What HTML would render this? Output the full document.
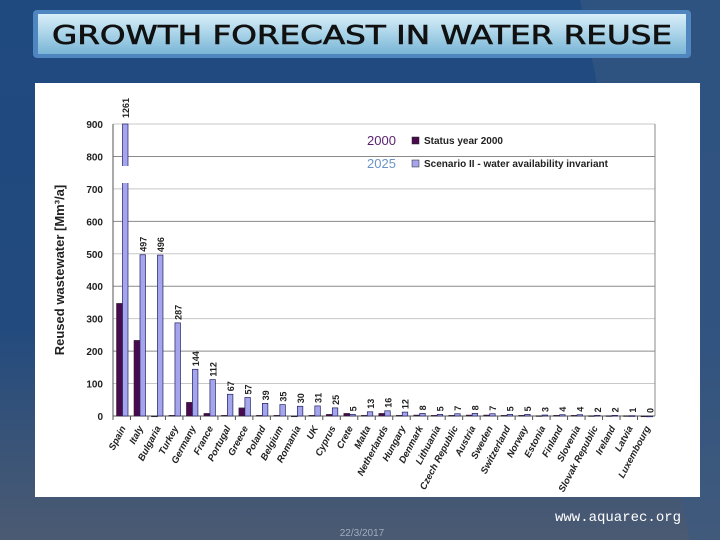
<!DOCTYPE html>
<html><head><meta charset="utf-8"><style>
body{margin:0;width:720px;height:540px;overflow:hidden;font-family:"Liberation Sans",sans-serif}
#bg{position:absolute;left:0;top:0;width:720px;height:540px;background:linear-gradient(180deg,#1f4a80 0%,#224a7e 60%,#3c5577 85%,#4b5a72 100%)}
</style></head><body>
<div id="bg"></div>
<svg id="c" width="720" height="540" style="position:absolute;left:0;top:0">
<defs>
<linearGradient id="tg" x1="0" y1="0" x2="0" y2="1"><stop offset="0" stop-color="#d8eef8"/><stop offset="0.5" stop-color="#a9d3e8"/><stop offset="1" stop-color="#79b5d6"/></linearGradient>
</defs>
<polygon points="580,0 720,0 720,540 690,540" fill="#3a5a82" opacity="0.6"/>
<rect x="33" y="10" width="658" height="48" rx="4" fill="#4f86c0"/>
<rect x="38" y="14" width="648" height="40" fill="url(#tg)"/>
<text x="362" y="44" text-anchor="middle" font-size="26" textLength="620" lengthAdjust="spacingAndGlyphs" fill="#111" stroke="#111" stroke-width="0.6" font-family="DejaVu Sans Condensed, DejaVu Sans, sans-serif">GROWTH FORECAST IN WATER REUSE</text>
<rect x="35" y="83" width="665" height="414" fill="#fff"/>
<g id="plot"></g>
<text x="555" y="521" font-size="14" fill="#fff" font-family="Liberation Mono, monospace">www.aquarec.org</text>
<text x="362" y="536" font-size="10" fill="#a0acc0" text-anchor="middle">22/3/2017</text>
</svg>
<script>
const countries=["Spain","Italy","Bulgaria","Turkey","Germany","France","Portugal","Greece","Poland","Belgium","Romania","UK","Cyprus","Crete","Malta","Netherlands","Hungary","Denmark","Lithuania","Czech Republic","Austria","Sweden","Switzerland","Norway","Estonia","Finland","Slovenia","Slovak Republic","Ireland","Latvia","Luxembourg"];
const values2000=[347,233,0,2,42,8,2,25,2,2,0,2,5,8,2,8,2,3,2,2,3,3,2,2,1,2,2,1,1,1,0];
const values2025=[1261,497,496,287,144,112,67,57,39,35,30,31,25,5,13,16,12,8,5,7,8,7,5,5,3,4,4,2,2,1,0];
const yTicks=[0,100,200,300,400,500,600,700,800,900];
const NS="http://www.w3.org/2000/svg";
const g=document.getElementById('plot');
const x0=113,x1=655,yBase=416,yTop=124,yMax=900;
const bw=(x1-x0)/countries.length;
const Y=v=>yBase-(Math.min(v,yMax))/yMax*(yBase-yTop);
const X=i=>x0+i*bw;
function el(t,a){const e=document.createElementNS(NS,t);for(const k in a)e.setAttribute(k,a[k]);g.appendChild(e);return e;}
yTicks.forEach(t=>{
 const l=el('line',{x1:x0,x2:x1,y1:Y(t),y2:Y(t),stroke:t%200?'#c8c8c8':'#8a8a8a','stroke-width':1});
 
 
 const tx=el('text',{x:x0-10,y:Y(t)+4,'text-anchor':'end','font-size':10,'font-weight':'bold',fill:'#222'});
 tx.textContent=t;
 
 
});
el('line',{x1:x0,x2:x0,y1:yTop,y2:yBase,stroke:'#555'});
el('line',{x1:x0,x2:x1,y1:yBase,y2:yBase,stroke:'#555'});
el('line',{x1:x1,x2:x1,y1:yTop,y2:yBase,stroke:'#888'});
countries.forEach((c,i)=>{
 const xc=X(i);
 el('line',{x1:xc,x2:xc,y1:yBase,y2:yBase+4,stroke:'#555'});
 const v0=values2000[i],v1=values2025[i];
 const b0=el('rect',{x:xc+3.5,y:Y(v0),width:6,height:Math.max(yBase-Y(v0),0.8),fill:'#4a0b4e',stroke:'#222','stroke-width':0.5});
 
 
 const yt=Y(v1);
 const b1=el('rect',{x:xc+9.5,y:yt,width:5.5,height:Math.max(yBase-yt,0.8),fill:'#a5a5ee',stroke:'#202060','stroke-width':0.7});
 
 
 if(v1>yMax){el('rect',{x:xc+8,y:166,width:9,height:17,fill:'#fff'});}
 const lb=el('text',{transform:`translate(${xc+16},${yt-(v1>yMax?6:3)}) rotate(-90)`,'font-size':9,'font-weight':'bold',fill:'#222'});
 lb.textContent=v1;
 
 
 const xl=el('text',{transform:`translate(${xc+13},${yBase+12}) rotate(-62)`,'text-anchor':'end','font-size':9.5,'font-style':'italic','font-weight':'bold',fill:'#222'});
 xl.textContent=c;
 
 
});
const yt=el('text',{transform:'translate(64,270) rotate(-90)','text-anchor':'middle','font-size':13,'font-weight':'bold',fill:'#222'});
yt.textContent='Reused wastewater [Mm³/a]';


[[ '2000','#5a1f6e','#4a0b4e','Status year 2000',141],['2025','#6a94c8','#a5a5ee','Scenario II - water availability invariant',164]].forEach(r=>{
 const a=el('text',{x:367,y:r[4]+4,'font-size':13,fill:r[1]});a.textContent=r[0];
 
 
 const s=el('rect',{x:412,y:r[4]-4,width:7,height:7,fill:r[2],stroke:'#222','stroke-width':0.5});
 
 
 const t=el('text',{x:424,y:r[4]+3,'font-size':10,'font-weight':'bold',fill:'#222'});t.textContent=r[3];
 
 
});
</script>
</body></html>
